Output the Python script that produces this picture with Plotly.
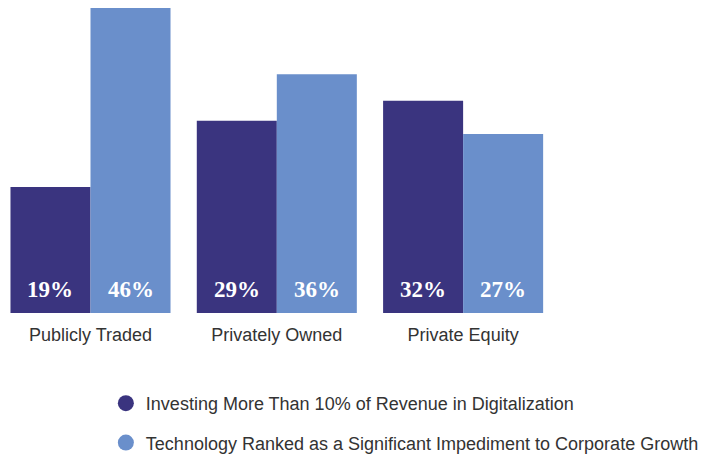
import plotly.graph_objects as go

categories = ["Publicly Traded", "Privately Owned", "Private Equity"]
series_names = [
    "Investing More Than 10% of Revenue in Digitalization",
    "Technology Ranked as a Significant Impediment to Corporate Growth",
]
investing = [19, 29, 32]
impediment = [46, 36, 27]
colors = ["#3a347f", "#6a8fcb"]

BARGAP = 0.141
fig = go.Figure()
series_vals = [investing, impediment]
for i, (name, vals) in enumerate(zip(series_names, series_vals)):
    fig.add_trace(go.Bar(
        x=categories, y=vals, name=name, marker_color=colors[i],
        marker_line_width=0, showlegend=False, hoverinfo="skip",
    ))
for i, name in enumerate(series_names):
    fig.add_trace(go.Scatter(
        x=[None], y=[None], mode="markers", name=name,
        marker=dict(symbol="circle", size=16, color=colors[i]),
        legendgroup=f"g{i}",
    ))

# value labels at the bottom of each bar
half = (1 - BARGAP) / 4
for j, vals in enumerate(series_vals):
    for ci, v in enumerate(vals):
        fig.add_annotation(
            x=ci + (2 * j - 1) * half, y=0, xref="x", yref="y",
            text=f"{v}%", showarrow=False, yanchor="bottom", yshift=9,
            font=dict(family="Liberation Serif", size=23, color="white",
                      weight="bold"),
        )

fig.update_layout(
    width=699, height=449,
    margin=dict(l=0, r=0, t=0, b=144, autoexpand=False),
    paper_bgcolor="white", plot_bgcolor="white",
    barmode="group", bargap=BARGAP, bargroupgap=0,
    font=dict(family="Liberation Sans, Arial", size=18, color="#333333"),
    xaxis=dict(range=[-0.4428, 3.309], showgrid=False, showline=False,
               zeroline=False, ticks="", tickfont=dict(size=18, color="#333333"),
               ticklabelstandoff=9, automargin=False),
    yaxis=dict(range=[0, 46], visible=False),
    legend=dict(x=0.140, y=-0.236, xanchor="left", yanchor="top",
                orientation="v", traceorder="grouped", tracegroupgap=13,
                font=dict(size=18, color="#333333"), bgcolor="rgba(0,0,0,0)",
                itemwidth=30),
)
fig.write_html("out.html")
